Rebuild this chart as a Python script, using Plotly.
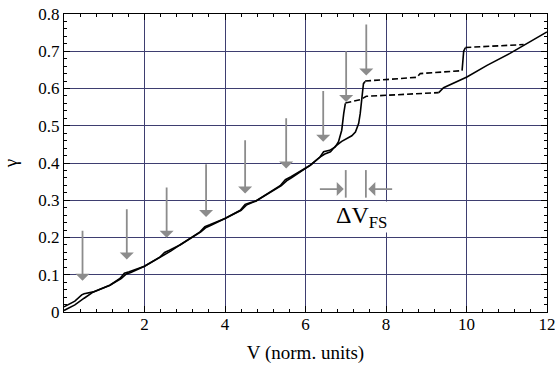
import plotly.graph_objects as go

# ---- data ----
# curve A: solid part, dashed part, solid tail
a_solid_x = [0, 0.27, 0.44, 0.5, 0.73, 1.14, 1.39, 1.5, 1.62, 2.0, 2.39, 2.5, 2.62, 2.88, 3.38, 3.5, 3.62,
             4.0, 4.38, 4.5, 4.62, 4.77, 5.37, 5.5, 5.64, 6.12, 6.36, 6.45, 6.6, 6.74, 6.82, 6.9, 6.95, 6.99]
a_solid_y = [0.014, 0.029, 0.046, 0.049, 0.054, 0.072, 0.09, 0.104, 0.108, 0.123, 0.148, 0.160, 0.166, 0.18,
             0.215, 0.229, 0.234, 0.251, 0.273, 0.289, 0.293, 0.298, 0.339, 0.355, 0.363, 0.394, 0.416, 0.43,
             0.434, 0.443, 0.457, 0.488, 0.533, 0.56]
a_dash_x = [6.99, 7.36, 7.51, 9.31]
a_dash_y = [0.561, 0.57, 0.579, 0.589]
a_tail_x = [9.31, 9.43, 10.01, 10.51, 11.09, 11.42, 12.0]
a_tail_y = [0.589, 0.602, 0.631, 0.662, 0.695, 0.716, 0.752]

# curve B: solid part, dashed, solid jump, dashed
b_solid_x = [0, 0.27, 0.5, 0.6, 0.73, 1.14, 1.42, 1.55, 1.66, 2.0, 2.42, 2.55, 2.66, 2.88, 3.4, 3.53, 3.64,
             4.0, 4.4, 4.53, 4.64, 4.77, 5.4, 5.53, 5.66, 6.12, 6.36, 6.48, 6.62, 6.74, 6.9, 7.03, 7.15, 7.24,
             7.32, 7.36, 7.4, 7.44, 7.48]
b_solid_y = [0.004, 0.019, 0.037, 0.045, 0.054, 0.072, 0.09, 0.102, 0.106, 0.123, 0.148, 0.158, 0.164, 0.18,
             0.215, 0.227, 0.232, 0.251, 0.273, 0.287, 0.292, 0.298, 0.339, 0.352, 0.361, 0.394, 0.416, 0.424,
             0.430, 0.445, 0.458, 0.466, 0.473, 0.483, 0.506, 0.533, 0.568, 0.613, 0.619]
b_dash1_x = [7.48, 8.77, 8.85, 9.89]
b_dash1_y = [0.620, 0.630, 0.640, 0.648]
b_jump_x = [9.89, 9.93, 9.97]
b_jump_y = [0.648, 0.700, 0.709]
b_dash2_x = [9.97, 11.42]
b_dash2_y = [0.710, 0.718]

# vertical gray arrows: x, tip y, tail y
arrow_x = [0.46, 1.56, 2.55, 3.53, 4.5, 5.52, 6.44, 7.01, 7.51]
arrow_tip = [0.084, 0.141, 0.199, 0.255, 0.318, 0.385, 0.457, 0.564, 0.635]
arrow_tail = [0.222, 0.28, 0.338, 0.401, 0.465, 0.524, 0.597, 0.704, 0.776]

# Delta V_FS marker
dv_bars_x = [7.0, 7.5]
dv_bars_y = [0.307, 0.381]
dv_arrow_y = 0.330
dv_left = (6.32, 6.95)
dv_right = (8.19, 7.56)
dv_label = "ΔV<sub>FS</sub>"
dv_label_pos = (7.38, 0.256)

x_ticks = [2, 4, 6, 8, 10, 12]
y_ticks = [0, 0.1, 0.2, 0.3, 0.4, 0.5, 0.6, 0.7, 0.8]
y_tick_text = ["0", "0.1", "0.2", "0.3", "0.4", "0.5", "0.6", "0.7", "0.8"]

FONT = "Liberation Serif"
GRID = "#3e3e70"
GRAY = "#8c8c8c"

fig = go.Figure()
line_solid = dict(color="black", width=1.6)
line_dash = dict(color="black", width=1.6, dash="6px,3px")

for xs, ys, ln in [(a_solid_x, a_solid_y, line_solid), (a_dash_x, a_dash_y, line_dash),
                   (a_tail_x, a_tail_y, line_solid), (b_solid_x, b_solid_y, line_solid),
                   (b_dash1_x, b_dash1_y, line_dash), (b_jump_x, b_jump_y, line_solid),
                   (b_dash2_x, b_dash2_y, line_dash)]:
    fig.add_trace(go.Scatter(x=xs, y=ys, mode="lines", line=ln, showlegend=False, hoverinfo="skip"))

arrow_style = dict(xref="x", yref="y", axref="x", ayref="y", text="", showarrow=True, arrowhead=1,
                   arrowsize=1.3, arrowwidth=1.8, arrowcolor=GRAY, standoff=0)
annotations = []
for x, tip, tail in zip(arrow_x, arrow_tip, arrow_tail):
    annotations.append(dict(x=x, y=tip, ax=x, ay=tail, **arrow_style))
annotations.append(dict(x=dv_left[1], y=dv_arrow_y, ax=dv_left[0], ay=dv_arrow_y, **arrow_style))
annotations.append(dict(x=dv_right[1], y=dv_arrow_y, ax=dv_right[0], ay=dv_arrow_y, **arrow_style))
annotations.append(dict(x=dv_label_pos[0], y=dv_label_pos[1], xref="x", yref="y", text=dv_label,
                        showarrow=False, font=dict(family=FONT, size=24, color="black"),
                        bgcolor="white", borderpad=0))

shapes = []
for bx in dv_bars_x:
    shapes.append(dict(type="line", xref="x", yref="y", x0=bx, x1=bx, y0=dv_bars_y[0], y1=dv_bars_y[1],
                       line=dict(color=GRAY, width=1.8)))

axis_common = dict(showline=True, linecolor="black", linewidth=1, mirror="allticks",
                   ticks="inside", ticklen=6, tickwidth=1, tickcolor="black",
                   showgrid=True, gridcolor=GRID, gridwidth=1, zeroline=False, automargin=False,
                   ticklabeloverflow="allow",
                   tickfont=dict(family=FONT, size=17, color="black"))

fig.update_layout(
    width=555, height=367,
    margin=dict(l=64, r=8, t=14, b=55),
    paper_bgcolor="white", plot_bgcolor="white",
    font=dict(family=FONT, color="black"),
    xaxis=dict(range=[0, 12], tickmode="array", tickvals=x_ticks, ticktext=[str(v) for v in x_ticks],
               minor=dict(tickmode="linear", tick0=0, dtick=0.4, ticks="inside", ticklen=3,
                          tickcolor="black", showgrid=False),
               ticklabelstandoff=-3,
               title=dict(text="V (norm. units)", font=dict(family=FONT, size=19, color="black"),
                          standoff=12),
               **axis_common),
    yaxis=dict(range=[0, 0.8], tickmode="array", tickvals=y_ticks, ticktext=y_tick_text,
               minor=dict(tickmode="linear", tick0=0, dtick=0.02, ticks="inside", ticklen=3,
                          tickcolor="black", showgrid=False),
               title=dict(text="γ", font=dict(family=FONT, size=19, color="black"), standoff=16),
               **axis_common),
    annotations=annotations,
    shapes=shapes,
)

fig.write_html("out.html")
